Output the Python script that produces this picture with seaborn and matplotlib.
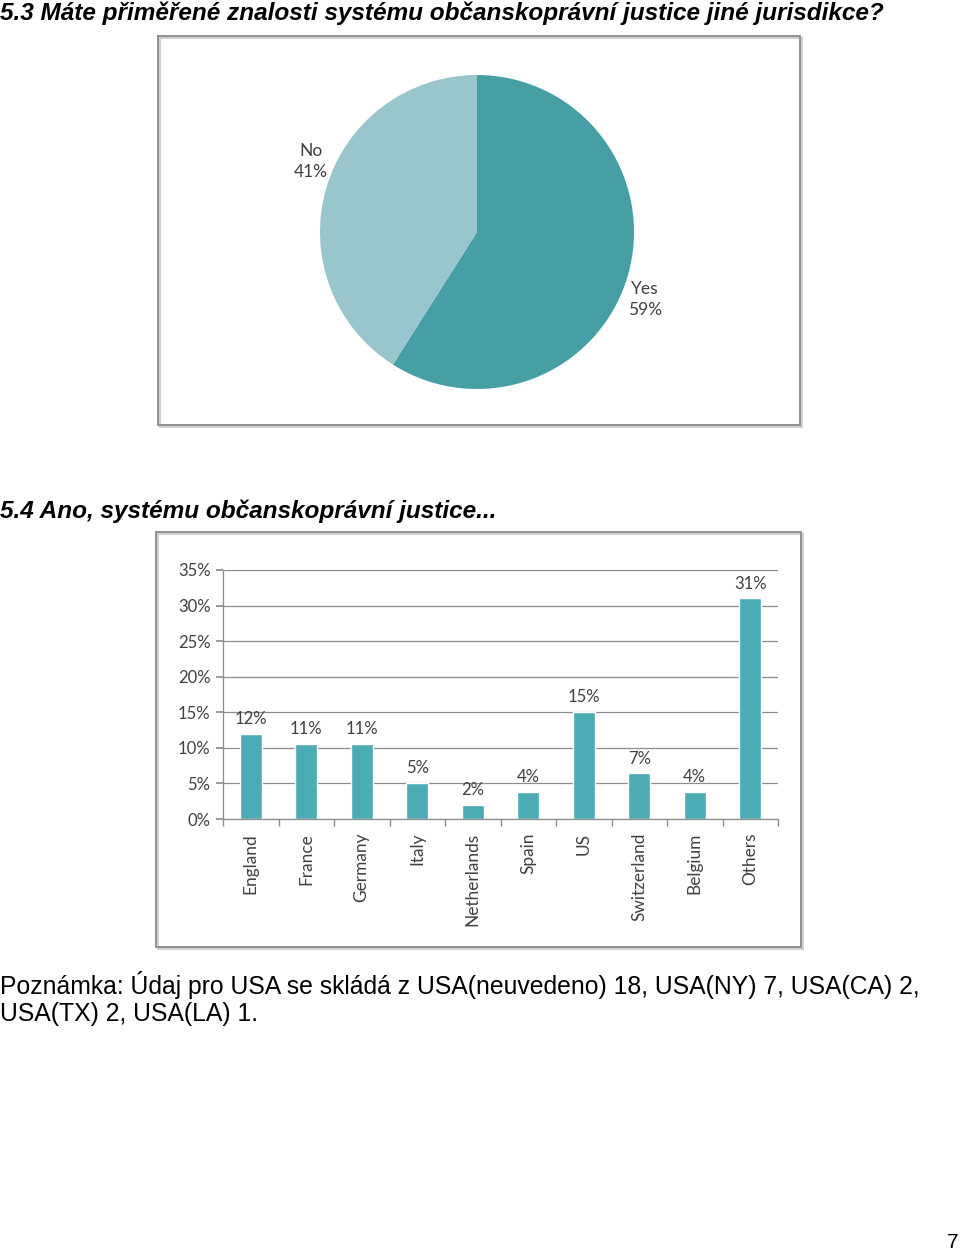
import matplotlib
matplotlib.use("Agg")
import matplotlib.pyplot as plt
import seaborn as sns
import numpy as np
import pandas as pd
from matplotlib.patches import Rectangle
from matplotlib.ticker import FuncFormatter

# ---- data ----
pie_labels = ["Yes", "No"]
pie_values = [59, 41]

countries = ["England", "France", "Germany", "Italy", "Netherlands",
             "Spain", "US", "Switzerland", "Belgium", "Others"]
shares = [12.0, 10.5, 10.5, 5.0, 2.0, 3.8, 15.0, 6.4, 3.8, 31.0]
share_labels = ["12%", "11%", "11%", "5%", "2%", "4%", "15%", "7%", "4%", "31%"]
y_ticks = [0, 5, 10, 15, 20, 25, 30, 35]

title1 = "5.3 Máte přiměřené znalosti systému občanskoprávní justice jiné jurisdikce?"
title2 = "5.4 Ano, systému občanskoprávní justice..."
note_lines = ["Poznámka: Údaj pro USA se skládá z USA(neuvedeno) 18, USA(NY) 7, USA(CA) 2,",
              "USA(TX) 2, USA(LA) 1."]
page_no = "7"

sns.set_theme(style="white")
plt.rcParams['font.family'] = ['Lato', 'DejaVu Sans']

W, H = 960, 1254
fig = plt.figure(figsize=(W / 100, H / 100), dpi=100)
fig.patch.set_facecolor("white")

def fx(x):
    return x / W

def fy(y):
    return 1 - y / H

txt_col = "#404040"
doc_font = ["Liberation Sans", "DejaVu Sans"]

# ---- headings and note ----
fig.text(fx(0), fy(13), title1, family=doc_font,
         fontsize=17.6, fontweight="bold", fontstyle="italic", va="center", ha="left", color="black")
fig.text(fx(0), fy(511), title2, family=doc_font,
         fontsize=17.6, fontweight="bold", fontstyle="italic", va="center", ha="left", color="black")
fig.text(fx(0), fy(985), note_lines[0], family=doc_font,
         fontsize=17.8, va="center", ha="left", color="black")
fig.text(fx(0), fy(1014), note_lines[1], family=doc_font,
         fontsize=17.8, va="center", ha="left", color="black")
fig.text(fx(958), fy(1243), page_no, family=doc_font,
         fontsize=15, va="center", ha="right", color="black")

# ---- frames ----
def frame(x0, y0, x1, y1):
    fig.patches.append(Rectangle((fx(x0 + 2), fy(y1 + 2)), fx(x1 - x0), (y1 - y0) / H,
                                 transform=fig.transFigure, fill=False,
                                 edgecolor="#d0d0d0", lw=1.5, zorder=0))
    fig.patches.append(Rectangle((fx(x0), fy(y1)), fx(x1 - x0), (y1 - y0) / H,
                                 transform=fig.transFigure, fill=False,
                                 edgecolor="#8f8f8f", lw=1.4, zorder=1))

frame(158, 36, 800, 425)
frame(156, 532, 801, 947)

# ---- pie chart ----
cx, cy, r = 477, 232, 157
axp = fig.add_axes([fx(cx - r), fy(cy + r), fx(2 * r), 2 * r / H])
axp.pie(pie_values, colors=["#479FA6", "#98C6CC"], startangle=90, counterclock=False,
        radius=1.0, wedgeprops=dict(linewidth=0))
axp.set_xlim(-1, 1)
axp.set_ylim(-1, 1)
axp.set_aspect("equal")
axp.text(-1.06, 0.45, f"{pie_labels[1]}\n{pie_values[1]}%", ha="center", va="center",
         fontsize=12.5, color=txt_col, linespacing=1.35)
axp.text(1.07, -0.43, f"{pie_labels[0]}\n{pie_values[0]}%", ha="center", va="center",
         fontsize=12.5, color=txt_col, linespacing=1.35)
axp.axis("off")

# ---- bar chart ----
x0, x1, ytop, ybot = 223, 778, 570, 819
axb = fig.add_axes([fx(x0), fy(ybot), fx(x1 - x0), (ybot - ytop) / H])
df = pd.DataFrame({"country": countries, "share": shares})
sns.barplot(data=df, x="country", y="share", color="#4BACB6", saturation=1,
            width=0.4, ax=axb)
axb.set_xlim(-0.5, len(countries) - 0.5)
axb.set_ylim(0, 35)
axb.set_yticks(y_ticks)
axb.yaxis.set_major_formatter(FuncFormatter(lambda v, p: f"{int(v)}%"))
axb.set_xlabel("")
axb.set_ylabel("")
axb.yaxis.grid(True, color="#8c8c8c", lw=0.9)
axb.set_axisbelow(True)
for s in ["top", "right"]:
    axb.spines[s].set_visible(False)
for s in ["left", "bottom"]:
    axb.spines[s].set_color("#8c8c8c")
    axb.spines[s].set_linewidth(0.9)
axb.tick_params(axis="y", which="both", left=True, length=5, color="#8c8c8c",
                labelsize=12, labelcolor=txt_col, pad=4)
axb.set_xticks(range(len(countries)))
axb.set_xticklabels(countries, rotation=90, fontsize=12.4, color=txt_col)
axb.tick_params(axis="x", which="major", bottom=False, pad=4)
axb.set_xticks(np.arange(-0.5, len(countries) + 0.5, 1), minor=True)
axb.tick_params(axis="x", which="minor", bottom=True, length=5, color="#8c8c8c")
for i, (v, lab) in enumerate(zip(shares, share_labels)):
    axb.annotate(lab, (i, v), xytext=(0, 5), textcoords="offset points",
                 ha="center", va="bottom", fontsize=12, color=txt_col)

fig.savefig("out.png", dpi=100, facecolor="white")
